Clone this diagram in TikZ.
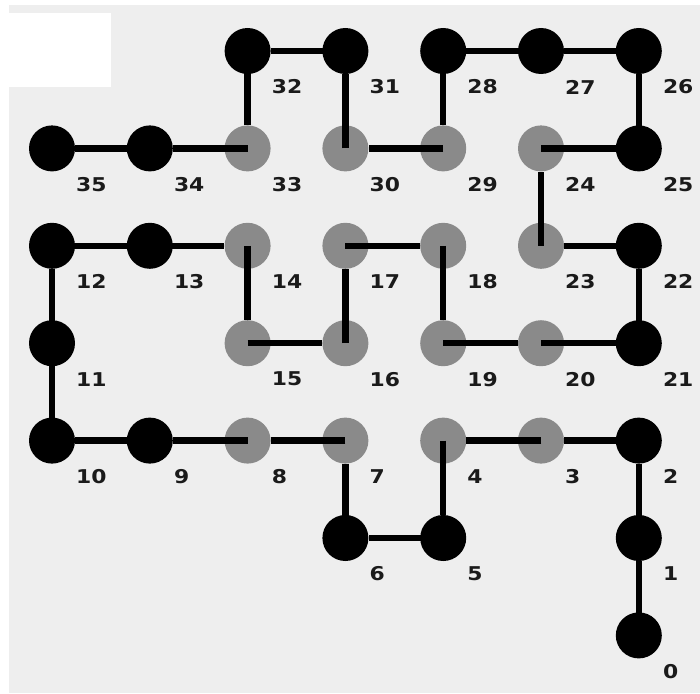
\documentclass[tikz,border=0pt]{standalone}
\usepackage{fontspec}
\newfontfamily\labfont[FakeStretch=1.15]{DejaVu Sans Bold}
\definecolor{panelbg}{HTML}{EEEEEE}
\definecolor{stonegray}{HTML}{8A8A8A}
\definecolor{labcol}{HTML}{1A1A1A}
\begin{document}
\begin{tikzpicture}[x=1pt,y=-1pt,
  stone/.style={circle,minimum size=46pt,inner sep=0pt,draw=none},
  bk/.style={fill=black},
  gr/.style={fill=stonegray},
  numlab/.style={font=\labfont\fontsize{19}{19}\selectfont,text=labcol,inner sep=0pt,anchor=west},
  link/.style={line width=6.5pt,draw=black}]
\useasboundingbox (0,0) rectangle (700,693);
\fill[white] (0,0) rectangle (700,693);
\fill[panelbg] (9,5) rectangle (700,693);
\fill[white] (9,13) rectangle (111,87);
\foreach \i/\c/\r/\t in {0/6/6/bk,1/6/5/bk,2/6/4/bk,3/5/4/gr,4/4/4/gr,5/4/5/bk,6/3/5/bk,
  7/3/4/gr,8/2/4/gr,9/1/4/bk,10/0/4/bk,11/0/3/bk,12/0/2/bk,13/1/2/bk,14/2/2/gr,
  15/2/3/gr,16/3/3/gr,17/3/2/gr,18/4/2/gr,19/4/3/gr,20/5/3/gr,21/6/3/bk,22/6/2/bk,
  23/5/2/gr,24/5/1/gr,25/6/1/bk,26/6/0/bk,27/5/0/bk,28/4/0/bk,29/4/1/gr,30/3/1/gr,
  31/3/0/bk,32/2/0/bk,33/2/1/gr,34/1/1/bk,35/0/1/bk}{
  \node[stone,\t] (n\i) at ({52+97.8*\c},{51+97.4*\r}) {};
  \node[numlab] (l\i) at ({52+97.8*\c+24},{51+97.4*\r+36}) {\i};
}
\foreach \i [evaluate=\i as \j using int(\i+1)] in {0,...,34}{
  \draw[link] (n\i.center) -- (n\j);
}
\end{tikzpicture}
\end{document}
